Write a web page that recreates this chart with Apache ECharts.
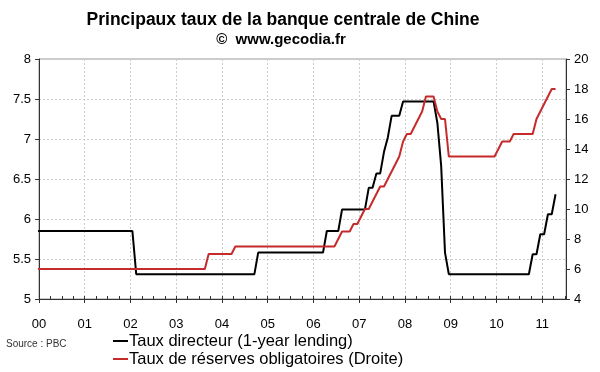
<!DOCTYPE html>
<html>
<head>
<meta charset="utf-8">
<script src="https://cdn.jsdelivr.net/npm/echarts@6/dist/echarts.min.js"></script>
<style>html,body{margin:0;padding:0;background:#fff}#c{width:600px;height:372px}</style>
</head>
<body>
<div id="c"></div>
<script>
// Year tick labels
var yearLabels = ['00','01','02','03','04','05','06','07','08','09','10','11'];

// Taux directeur (1-year lending), monthly change points
var lendingDates = ['1999-12','2002-01','2002-02','2004-09','2004-10','2006-03','2006-04','2006-07','2006-08',
  '2007-02','2007-03','2007-04','2007-05','2007-06','2007-07','2007-08','2007-09','2007-11','2007-12',
  '2008-08','2008-09','2008-10','2008-11','2008-12','2010-09','2010-10','2010-11','2010-12','2011-01',
  '2011-02','2011-03','2011-04'];
var lendingValues = [5.85,5.85,5.31,5.31,5.58,5.58,5.85,5.85,6.12,
  6.12,6.39,6.39,6.57,6.57,6.84,7.02,7.29,7.29,7.47,
  7.47,7.20,6.66,5.58,5.31,5.31,5.56,5.56,5.81,5.81,
  6.06,6.06,6.31];

// Taux de réserves obligatoires (Droite)
var rrrDates = ['1999-12','2003-08','2003-09','2004-03','2004-04','2006-06','2006-07','2006-08','2006-10',
  '2006-11','2006-12','2007-01','2007-02','2007-03','2007-04','2007-05','2007-06','2007-07','2007-08',
  '2007-09','2007-10','2007-11','2007-12','2008-01','2008-02','2008-03','2008-04','2008-05','2008-06',
  '2008-08','2008-09','2008-10','2008-11','2008-12','2009-12','2010-01','2010-02','2010-04','2010-05',
  '2010-10','2010-11','2010-12','2011-01','2011-02','2011-03','2011-04'];
var rrrValues = [6.0,6.0,7.0,7.0,7.5,7.5,8.0,8.5,8.5,
  9.0,9.0,9.5,10.0,10.0,10.5,11.0,11.5,11.5,12.0,
  12.5,13.0,13.5,14.5,15.0,15.0,15.5,16.0,16.5,17.5,
  17.5,16.5,16.0,16.0,13.5,13.5,14.0,14.5,14.5,15.0,
  15.0,16.0,16.5,17.0,17.5,18.0,18.0];

function toYear(d) { // month plotted at mid-month
  var p = d.split('-');
  return +p[0] + (+p[1] - 0.5) / 12;
}
function pairs(dates, vals) { return dates.map(function (d, i) { return [toYear(d), vals[i]]; }); }

var yearTicks = yearLabels.map(function (s) { return 2000 + (+s); });
var FONT = 'Liberation Sans, Arial, sans-serif';

var chart = echarts.init(document.getElementById('c'), null, {renderer: 'canvas'});
chart.setOption({
  animation: false,
  backgroundColor: '#fff',
  graphic: [
    {type: 'text', x: 283, y: 20, style: {text: 'Principaux taux de la banque centrale de Chine', font: 'bold 17.5px ' + FONT, fill: '#000', textAlign: 'center', textVerticalAlign: 'middle'}},
    {type: 'text', x: 281, y: 40, style: {text: '©  www.gecodia.fr', font: 'bold 15px ' + FONT, fill: '#000', textAlign: 'center', textVerticalAlign: 'middle'}},
    {type: 'text', x: 6, y: 344, style: {text: 'Source : PBC', font: '10px ' + FONT, fill: '#333', textVerticalAlign: 'middle'}}
  ],
  grid: {left: 39, right: 34, top: 59, bottom: 73, show: true, borderColor: '#999', borderWidth: 1},
  legend: {
    orient: 'vertical', left: 113, top: 332, bottom: 0, padding: 0, itemGap: 0, itemWidth: 15, itemHeight: 2, icon: 'rect',
    textStyle: {fontSize: 16.5, lineHeight: 18, fontFamily: FONT, color: '#000', padding: [0, 0, 0, -4]},
    data: ['Taux directeur (1-year lending)', 'Taux de réserves obligatoires (Droite)']
  },
  xAxis: [{
    type: 'value', min: 2000, max: 2011.52, interval: 1,
    axisLine: {lineStyle: {color: '#333', width: 1}},
    axisTick: {show: true, inside: false, length: 4, lineStyle: {color: '#333'}, customValues: yearTicks},
    axisLabel: {fontSize: 13, fontFamily: FONT, color: '#000', margin: 19, customValues: yearTicks,
      formatter: function (v) { var i = Math.round(v - 2000); return yearLabels[i] || ''; }},
    splitLine: {show: true, lineStyle: {color: '#cccccc', type: [2, 2], width: 1}}
  }, {
    type: 'value', min: 2000, max: 2011.52, interval: 0.25, position: 'bottom',
    axisLine: {show: false}, axisLabel: {show: false}, splitLine: {show: false},
    axisTick: {show: true, inside: true, length: 3, lineStyle: {color: '#333'}}
  }],
  yAxis: [{
    type: 'value', min: 5, max: 8, interval: 0.5, position: 'left',
    axisLine: {show: true, lineStyle: {color: '#333'}},
    axisTick: {show: true, inside: false, length: 4, lineStyle: {color: '#333'}},
    axisLabel: {fontSize: 13, fontFamily: FONT, color: '#000', margin: 8},
    splitLine: {show: true, lineStyle: {color: '#cccccc', type: [2, 2], width: 1}}
  }, {
    type: 'value', min: 4, max: 20, interval: 2, position: 'right',
    axisLine: {show: true, lineStyle: {color: '#333'}},
    axisTick: {show: true, inside: false, length: 4, lineStyle: {color: '#333'}},
    axisLabel: {fontSize: 13, fontFamily: FONT, color: '#000', margin: 8},
    splitLine: {show: false}
  }],
  series: [{
    name: 'Taux directeur (1-year lending)', type: 'line', xAxisIndex: 0, yAxisIndex: 0,
    data: pairs(lendingDates, lendingValues), showSymbol: false, symbol: 'none',
    lineStyle: {color: '#000', width: 2}, itemStyle: {color: '#000'}
  }, {
    name: 'Taux de réserves obligatoires (Droite)', type: 'line', xAxisIndex: 0, yAxisIndex: 1,
    data: pairs(rrrDates, rrrValues), showSymbol: false, symbol: 'none',
    lineStyle: {color: '#c62a2a', width: 2}, itemStyle: {color: '#c62a2a'}
  }]
});
</script>
</body>
</html>
